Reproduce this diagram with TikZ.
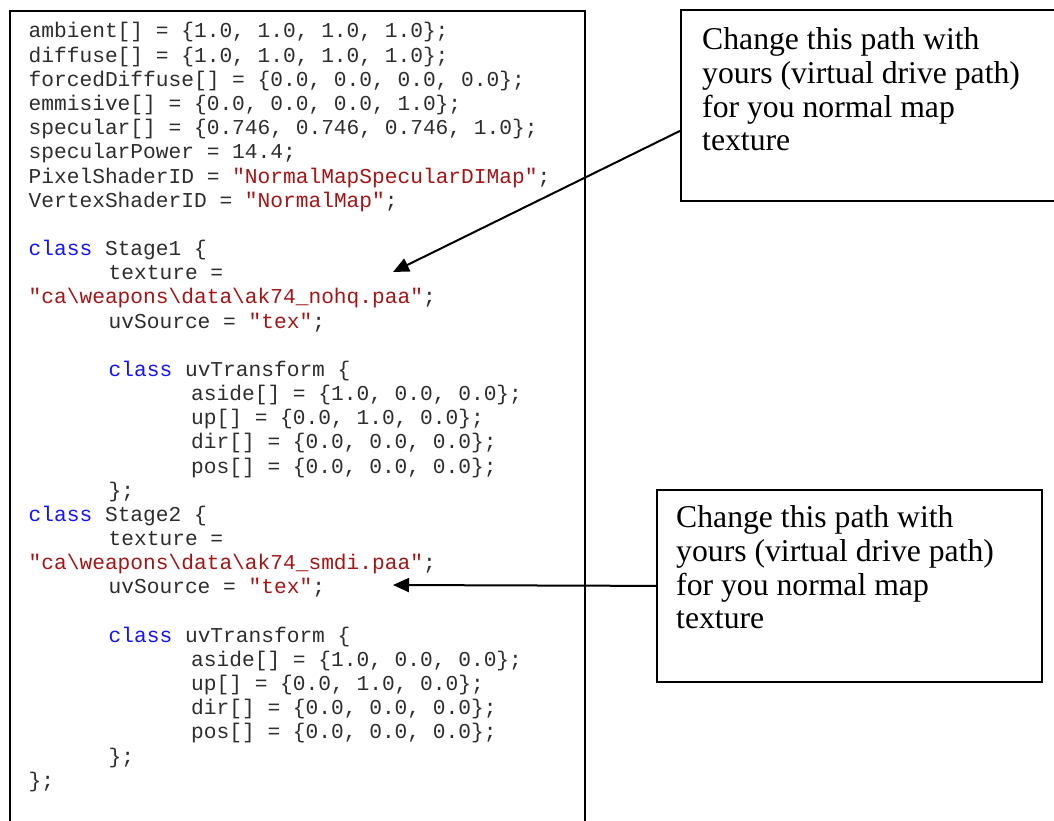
\documentclass[tikz,border=0pt]{standalone}
\usepackage{fontspec}
\setmainfont{Liberation Serif}
\newfontfamily\codefont{Liberation Mono}
\usetikzlibrary{arrows.meta}
\definecolor{kw}{RGB}{20,20,255}
\definecolor{str}{RGB}{163,21,21}
\definecolor{codetext}{RGB}{45,45,45}
\newcommand{\kwd}[1]{\textcolor{kw}{#1}}
\newcommand{\strg}[1]{\textcolor{str}{#1}}
\newcommand{\bs}{\textbackslash}
\begin{document}
\begin{tikzpicture}[x=1pt,y=-1pt,
  code/.style={anchor=base west, inner sep=0pt, font=\codefont\fontsize{21.2}{24}\selectfont, text=codetext},
  frame/.style={draw=black, line width=1.8pt, inner sep=0pt, anchor=north west},
  notetext/.style={anchor=north west, inner sep=0pt, align=left, font=\fontsize{31.7}{33.6}\selectfont},
  arr/.style={line width=2pt, -{Triangle[length=16pt,width=14pt]}}]
\useasboundingbox (0,0) rectangle (1054,821);
\clip (0,0) rectangle (1054,821);
% left code box
\node[frame, minimum width=575pt, minimum height=850pt] (codebox) at (9,10) {};
% code lines
\def\ly#1{{38+24.17*#1}}
\node[code] (l0) at (28.5,\ly{0}) {ambient[] = \{1.0, 1.0, 1.0, 1.0\};};
\node[code] (l1) at (28.5,\ly{1}) {diffuse[] = \{1.0, 1.0, 1.0, 1.0\};};
\node[code] (l2) at (28.5,\ly{2}) {forcedDiffuse[] = \{0.0, 0.0, 0.0, 0.0\};};
\node[code] (l3) at (28.5,\ly{3}) {emmisive[] = \{0.0, 0.0, 0.0, 1.0\};};
\node[code] (l4) at (28.5,\ly{4}) {specular[] = \{0.746, 0.746, 0.746, 1.0\};};
\node[code] (l5) at (28.5,\ly{5}) {specularPower = 14.4;};
\node[code] (l6) at (28.5,\ly{6}) {PixelShaderID = \strg{"NormalMapSpecularDIMap"};};
\node[code] (l7) at (28.5,\ly{7}) {VertexShaderID = \strg{"NormalMap"};};
\node[code] (l9) at (28.5,\ly{9}) {\kwd{class} Stage1 \{};
\node[code] (l10) at (108.5,\ly{10}) {texture =};
\node[code] (l11) at (28.5,\ly{11}) {\strg{"ca\bs weapons\bs data\bs ak74\_nohq.paa"};};
\node[code] (l12) at (108.5,\ly{12}) {uvSource = \strg{"tex"};};
\node[code] (l14) at (108.5,\ly{14}) {\kwd{class} uvTransform \{};
\node[code] (l15) at (191,\ly{15}) {aside[] = \{1.0, 0.0, 0.0\};};
\node[code] (l16) at (191,\ly{16}) {up[] = \{0.0, 1.0, 0.0\};};
\node[code] (l17) at (191,\ly{17}) {dir[] = \{0.0, 0.0, 0.0\};};
\node[code] (l18) at (191,\ly{18}) {pos[] = \{0.0, 0.0, 0.0\};};
\node[code] (l19) at (108.5,\ly{19}) {\};};
\node[code] (l20) at (28.5,\ly{20}) {\kwd{class} Stage2 \{};
\node[code] (l21) at (108.5,\ly{21}) {texture =};
\node[code] (l22) at (28.5,\ly{22}) {\strg{"ca\bs weapons\bs data\bs ak74\_smdi.paa"};};
\node[code] (l23) at (108.5,\ly{23}) {uvSource = \strg{"tex"};};
\node[code] (l25) at (108.5,\ly{25}) {\kwd{class} uvTransform \{};
\node[code] (l26) at (191,\ly{26}) {aside[] = \{1.0, 0.0, 0.0\};};
\node[code] (l27) at (191,\ly{27}) {up[] = \{0.0, 1.0, 0.0\};};
\node[code] (l28) at (191,\ly{28}) {dir[] = \{0.0, 0.0, 0.0\};};
\node[code] (l29) at (191,\ly{29}) {pos[] = \{0.0, 0.0, 0.0\};};
\node[code] (l30) at (108.5,\ly{30}) {\};};
\node[code] (l31) at (28.5,\ly{31}) {\};};
% note boxes
\node[frame, fill=white, minimum width=400pt, minimum height=191pt] (n1) at (680,9) {};
\node[notetext] (t1) at (702,26.2) {\strut Change this path with\\yours (virtual drive path)\\for you normal map\\texture};
\node[frame, fill=white, minimum width=385pt, minimum height=192pt] (n2) at (656,489) {};
\node[notetext] (t2) at (676,504.2) {\strut Change this path with\\yours (virtual drive path)\\for you normal map\\texture};
% arrows
\coordinate (p1) at (393,272);
\coordinate (p2) at (393,585);
\draw[arr] ([yshift=-25.5pt]n1.west) -- (p1);
\draw[arr] (n2.west) -- (p2);
\end{tikzpicture}
\end{document}
